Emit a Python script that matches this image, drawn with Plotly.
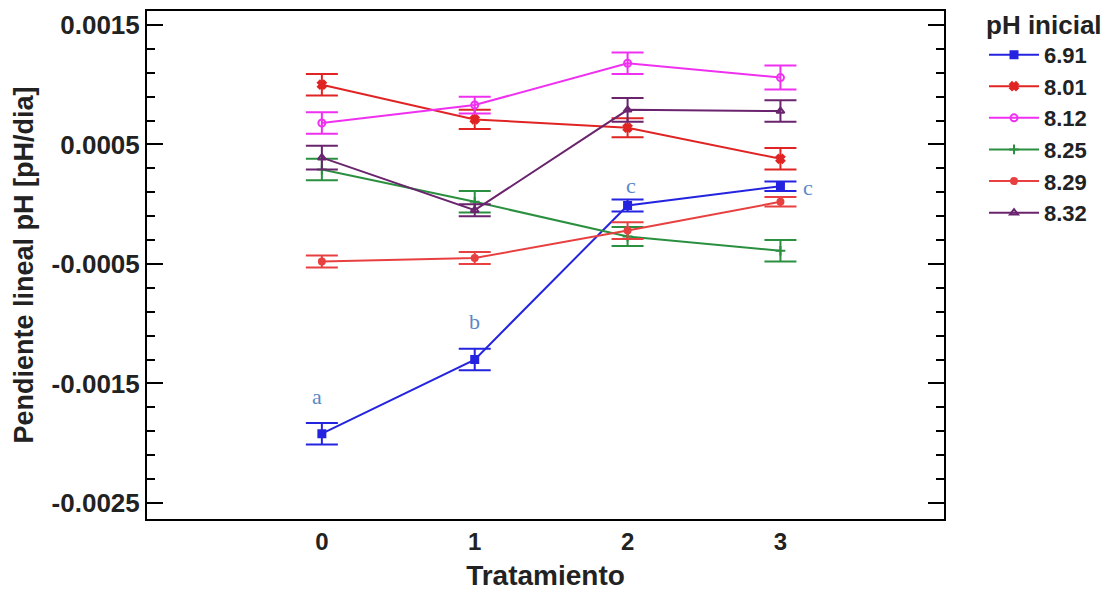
import plotly.graph_objects as go

tratamiento = [0, 1, 2, 3]
series_names = ["6.91", "8.01", "8.12", "8.25", "8.29", "8.32"]
v_691 = [-0.00192, -0.00130, -0.00001, 0.00015]
e_691 = [0.00009, 0.00009, 0.00005, 0.00004]
v_801 = [0.00100, 0.00071, 0.00064, 0.00038]
e_801 = [0.00009, 0.00008, 0.00008, 0.00009]
v_812 = [0.00068, 0.00083, 0.00118, 0.00106]
e_812 = [0.00009, 0.00007, 0.00009, 0.00010]
v_825 = [0.00029, 0.00002, -0.00027, -0.00039]
e_825 = [0.00009, 0.00009, 0.00008, 0.00009]
v_829 = [-0.00048, -0.00045, -0.00022, 0.00002]
e_829 = [0.00005, 0.00005, 0.00007, 0.00004]
v_832 = [0.00039, -0.00005, 0.00079, 0.00078]
e_832 = [0.00010, 0.00005, 0.00010, 0.00009]

letters = ["a", "b", "c", "c"]
letter_x = [-0.03, 1.0, 2.02, 3.18]
letter_y = [-0.00161, -0.00098, 0.000153, 0.000144]

yticks = [0.0015, 0.0005, -0.0005, -0.0015, -0.0025]
yticktext = ["0.0015", "0.0005", "-0.0005", "-0.0015", "-0.0025"]

styles = [
    ("#2424e0", "square", 7),
    ("#e02424", "x", 7),
    ("#f030f0", "circle-open", 7),
    ("#2a9040", "cross-thin-open", 7),
    ("#e84040", "circle", 6),
    ("#6a246e", "triangle-up-open", 7),
]
values = [v_691, v_801, v_812, v_825, v_829, v_832]
errors = [e_691, e_801, e_812, e_825, e_829, e_832]

fig = go.Figure()
for name, vals, errs, (col, sym, sz) in zip(series_names, values, errors, styles):
    fig.add_trace(go.Scatter(
        x=tratamiento, y=vals, name=name, mode="lines+markers",
        line=dict(color=col, width=2),
        marker=dict(color=col, symbol=sym, size=sz, line=dict(color=col, width=2)),
        error_y=dict(type="data", array=errs, visible=True, color=col,
                     thickness=2, width=16),
    ))

for lx, ly, lt in zip(letter_x, letter_y, letters):
    fig.add_annotation(x=lx, y=ly, text=lt, showarrow=False,
                       font=dict(family="Liberation Serif, DejaVu Serif, serif",
                                 size=22, color="#5a88c8"))

FONT = "Liberation Sans, Arial, sans-serif"
fig.update_layout(
    width=1119, height=599,
    margin=dict(l=147, r=175, t=11, b=80, autoexpand=False),
    paper_bgcolor="white", plot_bgcolor="white",
    font=dict(family=FONT, color="#222222"),
    legend=dict(
        title=dict(text="<b>pH inicial</b>", font=dict(size=26, color="#222222")),
        x=1.0502, xanchor="left", y=1.0216, yanchor="top",
        font=dict(size=22, color="#222222", family=FONT, weight="bold"),
        tracegroupgap=0, itemwidth=50,
    ),
    showlegend=True,
)
fig.update_xaxes(
    range=[-1.144, 4.07], tickvals=tratamiento, ticktext=[str(t) for t in tratamiento],
    ticks="", showgrid=False, zeroline=False,
    showline=True, linecolor="black", linewidth=2, mirror=True,
    tickfont=dict(size=24, family=FONT, weight="bold"),
    title=dict(text="<b>Tratamiento</b>", standoff=12,
               font=dict(size=28, family=FONT)),
)
fig.update_yaxes(
    range=[-0.002634, 0.001617], tickvals=yticks, ticktext=yticktext,
    ticks="inside", ticklen=16, tickwidth=2, tickcolor="black",
    minor=dict(ticks="inside", ticklen=8, tickwidth=2, tickcolor="black",
               tick0=-0.0025, dtick=0.0002),
    showgrid=False, zeroline=False,
    showline=True, linecolor="black", linewidth=2, mirror="ticks",
    tickfont=dict(size=26, weight="bold"),
    title=dict(text="<b>Pendiente lineal pH [pH/dia]</b>", standoff=10,
               font=dict(size=27)),
)

fig.write_html("out.html")
